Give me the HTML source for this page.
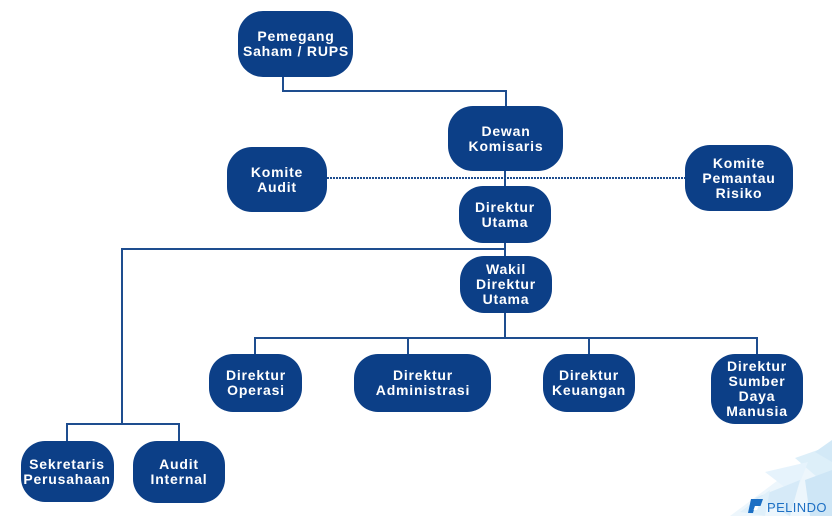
<!DOCTYPE html>
<html>
<head>
<meta charset="utf-8">
<style>
html,body{margin:0;padding:0;background:#fff;}
body{width:832px;height:516px;overflow:hidden;}
svg{display:block;}
.b{fill:#0c3f87;}
.t{font-family:"Liberation Sans",sans-serif;font-weight:bold;font-size:14px;fill:#fff;text-anchor:middle;letter-spacing:0.8px;}
.l{fill:none;stroke:#1e4d8f;stroke-width:2;}
</style>
</head>
<body>
<svg width="832" height="516" viewBox="0 0 832 516" xmlns="http://www.w3.org/2000/svg">
  <!-- decoration -->
  <g opacity="0.85">
    <polygon points="832,440 832,516 730,516" fill="#eaf5fc"/>
    <polygon points="795,458 832,445 832,490" fill="#d8edf9"/>
    <polygon points="765,472 808,462 795,495" fill="#e2f1fc"/>
    <polygon points="755,498 800,480 790,516" fill="#cfe7f7"/>
    <polygon points="805,480 832,470 832,516 810,516" fill="#c6e2f5"/>
    <polygon points="740,512 770,490 765,516" fill="#dbeefa"/>
    <polygon points="815,452 832,440 832,462" fill="#cce6f6"/>
  </g>
  <!-- logo -->
  <path d="M751 499 h12 l-2.5 7 h-5.5 l-2 7 h-5 z" fill="#1c6fc4"/>
  <path d="M755 506 h3.5 l-1.5 4 h-3.5 z" fill="#fff"/>
  <text x="767" y="512" font-family="Liberation Sans,sans-serif" font-size="13" fill="#1c6fc4" letter-spacing="0.4">PELINDO</text>

  <!-- connectors -->
  <path class="l" d="M283 77 V91 H506 V106"/>
  <path class="l" d="M505 171 V186"/>
  <path class="l" d="M505 243 V256"/>
  <path class="l" d="M505 249 H122 V424"/>
  <path class="l" d="M67 441 V424 H179 V441"/>
  <path class="l" d="M505 313 V338"/>
  <path class="l" d="M255 354 V338 H757 V354"/>
  <path class="l" d="M408 338 V354"/>
  <path class="l" d="M589 338 V354"/>
  <path d="M327 178 H685" stroke="#1e4d8f" stroke-width="2" stroke-dasharray="2 1" fill="none"/>

  <!-- boxes -->
  <rect class="b" x="238" y="11" width="115" height="66" rx="25"/>
  <text class="t" x="296" y="41">Pemegang</text>
  <text class="t" x="296" y="56">Saham / RUPS</text>

  <rect class="b" x="448" y="106" width="115" height="65" rx="25"/>
  <text class="t" x="506" y="136">Dewan</text>
  <text class="t" x="506" y="151">Komisaris</text>

  <rect class="b" x="227" y="147" width="100" height="65" rx="25"/>
  <text class="t" x="277" y="177">Komite</text>
  <text class="t" x="277" y="192">Audit</text>

  <rect class="b" x="685" y="145" width="108" height="66" rx="25"/>
  <text class="t" x="739" y="168">Komite</text>
  <text class="t" x="739" y="183">Pemantau</text>
  <text class="t" x="739" y="198">Risiko</text>

  <rect class="b" x="459" y="186" width="92" height="57" rx="24"/>
  <text class="t" x="505" y="212">Direktur</text>
  <text class="t" x="505" y="227">Utama</text>

  <rect class="b" x="460" y="256" width="92" height="57" rx="24"/>
  <text class="t" x="506" y="274">Wakil</text>
  <text class="t" x="506" y="289">Direktur</text>
  <text class="t" x="506" y="304">Utama</text>

  <rect class="b" x="209" y="354" width="93" height="58" rx="24"/>
  <text class="t" x="256" y="380">Direktur</text>
  <text class="t" x="256" y="395">Operasi</text>

  <rect class="b" x="354" y="354" width="137" height="58" rx="24"/>
  <text class="t" x="423" y="380">Direktur</text>
  <text class="t" x="423" y="395">Administrasi</text>

  <rect class="b" x="543" y="354" width="92" height="58" rx="24"/>
  <text class="t" x="589" y="380">Direktur</text>
  <text class="t" x="589" y="395">Keuangan</text>

  <rect class="b" x="711" y="354" width="92" height="70" rx="24"/>
  <text class="t" x="757" y="371">Direktur</text>
  <text class="t" x="757" y="386">Sumber</text>
  <text class="t" x="757" y="401">Daya</text>
  <text class="t" x="757" y="416">Manusia</text>

  <rect class="b" x="21" y="441" width="93" height="61" rx="24"/>
  <text class="t" x="67" y="469">Sekretaris</text>
  <text class="t" x="67" y="484">Perusahaan</text>

  <rect class="b" x="133" y="441" width="92" height="62" rx="24"/>
  <text class="t" x="179" y="469">Audit</text>
  <text class="t" x="179" y="484">Internal</text>
</svg>
</body>
</html>
